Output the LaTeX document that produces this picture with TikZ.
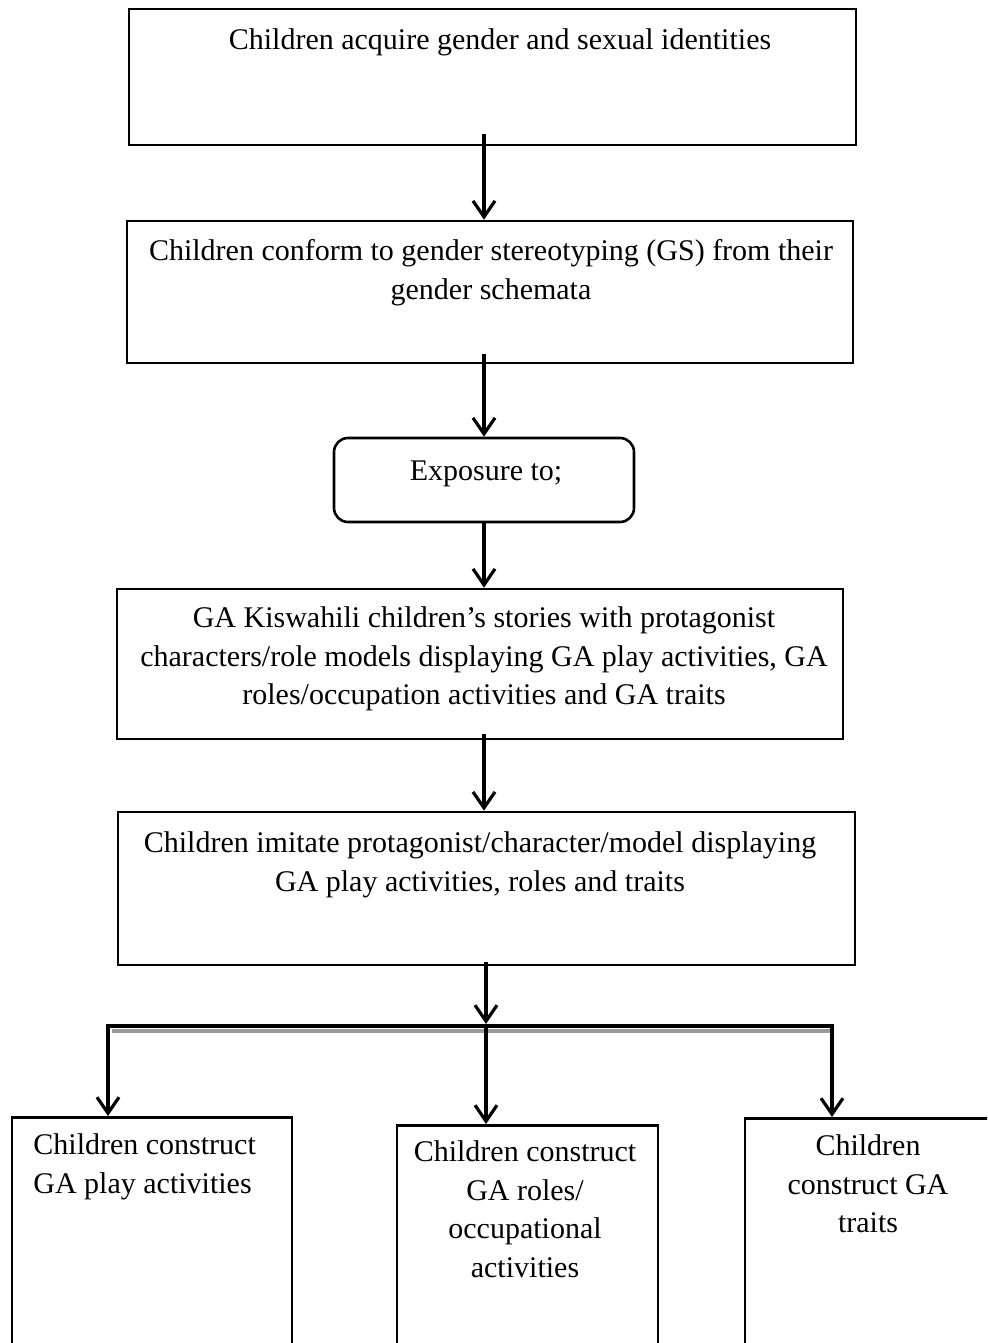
\documentclass[tikz,border=0pt]{standalone}
\usepackage{fontspec}
\setmainfont{Liberation Serif}
\usetikzlibrary{arrows.meta, positioning}

\tikzset{
  box/.style={draw, line width=1.3pt, inner sep=0pt},
  txt/.style={anchor=north, align=center, inner sep=0pt, font=\fontsize{15}{19.4}\selectfont},
  flow/.style={line width=1.6pt, -{Straight Barb[length=8pt, width=11pt, line width=1.6pt]}},
}

\begin{document}
\begin{tikzpicture}[x=0.5pt, y=-0.5pt]
        \useasboundingbox (0,0) rectangle (987,1343);
        \clip (0,0) rectangle (987,1343);

        % Main column of boxes
        \node[box, minimum width=363.5pt, minimum height=68pt] (acquire) at (492.5,77) {};
        \node[box, minimum width=363pt, minimum height=71pt] (conform) at (490,292) {};
        \node[box, rounded corners=7pt, minimum width=150pt, minimum height=42pt] (exposure) at (484,480) {};
        \node[box, minimum width=363pt, minimum height=75pt] (stories) at (480,664) {};
        \node[box, minimum width=368.5pt, minimum height=76.5pt] (imitate) at (486.5,888.5) {};

        % Bottom row, open at the foot of the page
        \node[box, anchor=north, minimum width=140pt, minimum height=130pt] (play) at (152,1116) {};
        \node[box, anchor=north, minimum width=130.5pt, minimum height=130pt] (roles) at (527.5,1124) {};
        \node[box, anchor=north, minimum width=127.5pt, minimum height=130pt] (traits) at (872.5,1117) {};

        % Texts
        \node[txt] (acquiretext) at (500,28) {Children acquire gender and sexual identities};
        \node[txt] (conformtext) at (491,239) {Children conform to gender stereotyping (GS) from their\\gender schemata};
        \node[txt] (exposuretext) at (486,460) {Exposure to;};
        \node[txt] (storiestext) at (484,606) {GA Kiswahili children’s stories with protagonist\\characters/role models displaying GA play activities, GA\\roles/occupation activities and GA traits};
        \node[txt] (imitatetext) at (480,831) {Children imitate protagonist/character/model displaying\\GA play activities, roles and traits};
        \node[txt, anchor=north west, align=left] (playtext) at (33,1133) {Children construct\\GA play activities};
        \node[txt] (rolestext) at (525,1140) {Children construct\\GA roles/\\occupational\\activities};
        \node[txt] (traitstext) at (868,1134) {Children\\construct GA\\traits};

        % Branching bar
        \coordinate (barleft) at (108,1026);
        \coordinate (barmid) at (486,1024);
        \coordinate (barright) at (832,1026);
        \draw[gray!80, line width=2.4pt] (112,1031) -- (834,1031);
        \draw[line width=2pt] ([xshift=-0.8pt]barleft) -- ([xshift=1pt]barright);

        % Arrows
        \draw[flow] ([yshift=6pt]acquire.south -| exposure) -- (conform.north -| exposure);
        \draw[flow] ([yshift=5pt]conform.south -| exposure) -- (exposure.north);
        \draw[flow] (exposure.south) -- (stories.north -| exposure);
        \draw[flow] ([yshift=3pt]stories.south -| exposure) -- (imitate.north -| exposure);
        \draw[flow] ([yshift=2pt]imitate.south -| barmid) -- (barmid);
        \draw[flow] (barmid) -- (barmid |- roles.north);
        \draw[flow] (barleft) -- (barleft |- play.north);
        \draw[flow] (barright) -- (barright |- traits.north);
    \end{tikzpicture}
\end{document}
